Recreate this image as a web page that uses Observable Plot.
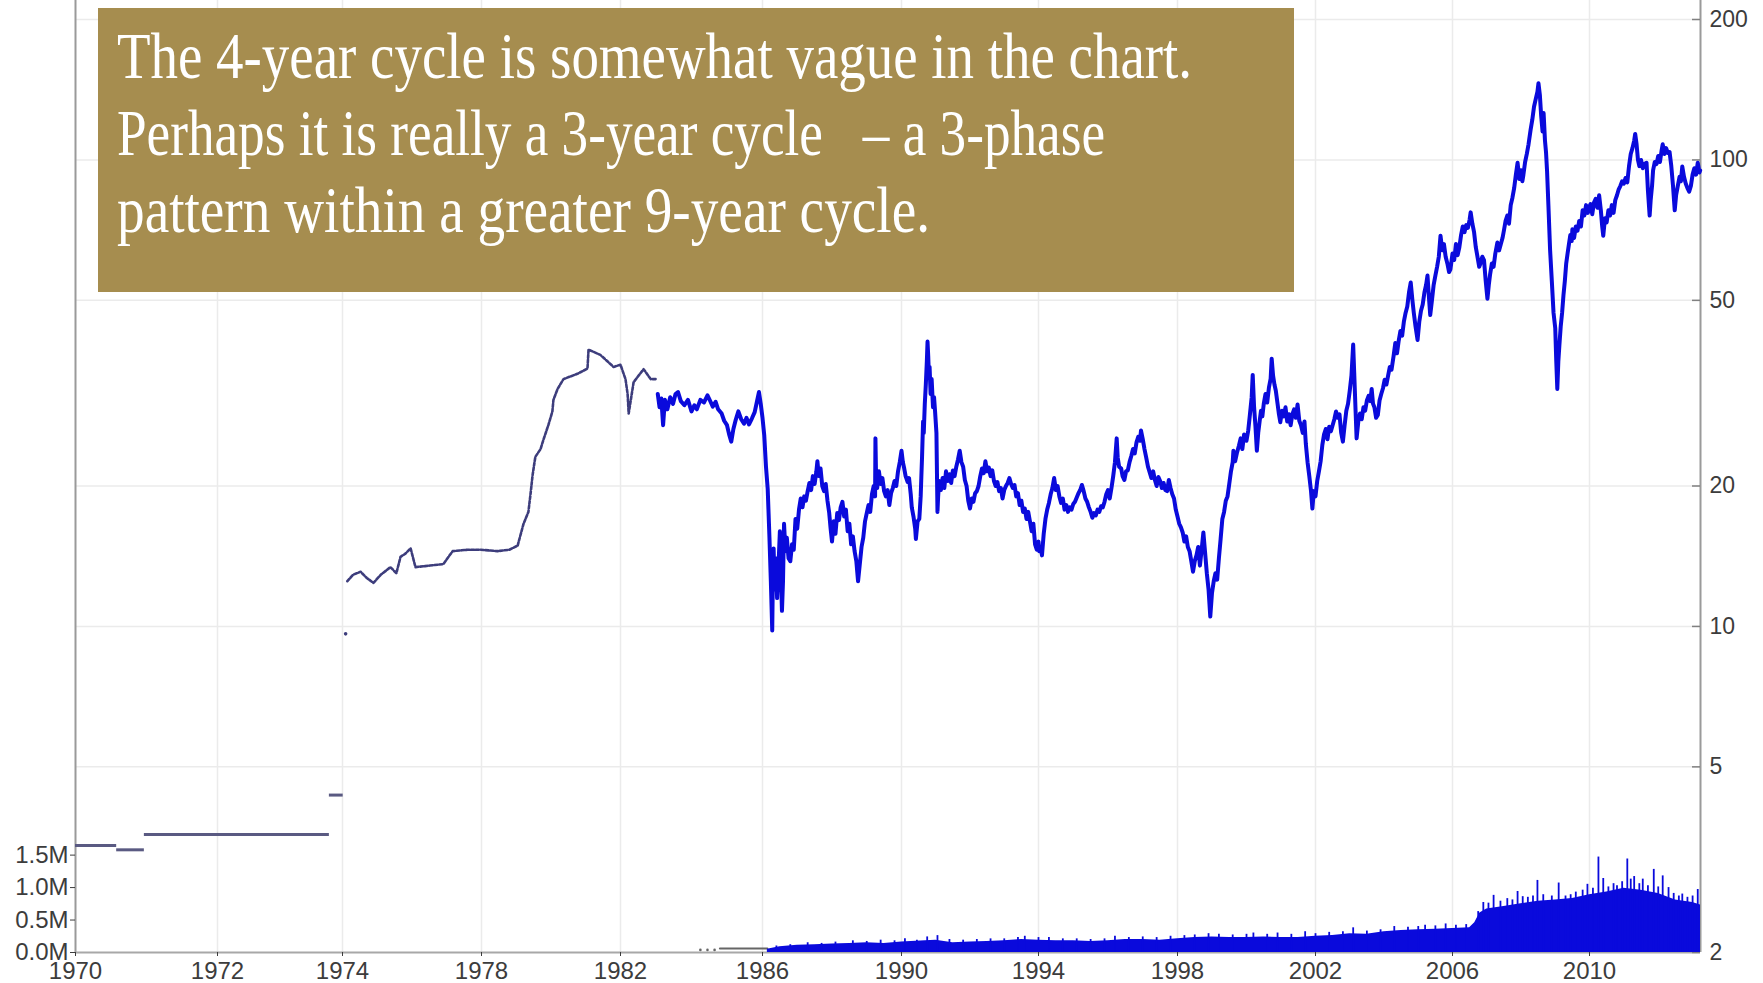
<!DOCTYPE html>
<html>
<head>
<meta charset="utf-8">
<script src="https://cdn.jsdelivr.net/npm/d3@7"></script>
<script src="https://cdn.jsdelivr.net/npm/@observablehq/plot@0.6"></script>
<style>
html, body { margin: 0; padding: 0; background: #ffffff; }
#wrap { position: relative; width: 1763px; height: 983px; overflow: hidden; background: #ffffff; }
#wrap > svg, #wrap > figure { position: absolute; left: 0; top: 0; margin: 0; }
#note { position: absolute; left: 98px; top: 8px; width: 1196px; height: 284px; background: #a68d4f; }
#note .line { position: absolute; left: 19px; white-space: pre; color: #ffffff; transform-origin: 0 0;
  font-family: 'Liberation Serif', 'DejaVu Serif', serif; font-size: 65px; line-height: 65px; }
</style>
</head>
<body>
<div id="wrap"></div>
<script>
// ---------- data ----------
const tickYears = [1970, 1972, 1974, 1978, 1982, 1986, 1990, 1994, 1998, 2002, 2006, 2010];
const xBreaks = [1970, 1972, 1974, 1978, 1982, 1986, 1990, 1994, 1998, 2002, 2006, 2010, 2013.23];
const priceTicks = [200, 100, 50, 20, 10, 5, 2];
const volumeTicks = [0, 0.5, 1.0, 1.5];

// 1970-1974: flat monthly posted prices [start year, end year, price]
const earlySteps = [
  [1970.0, 1970.58, 3.39], [1970.58, 1970.97, 3.32], [1970.97, 1973.79, 3.58], [1973.79, 1974.02, 4.35]
];
// isolated early monthly point
const earlyIsolated = [[1974.09, 9.64]];
// 1974-1983 monthly prices [year, price]
const earlyPrice = [
  [1974.14,12.5],[1974.3,12.9],[1974.52,13.1],[1974.7,12.7],[1974.89,12.4],[1975.1,12.9],[1975.38,13.4],
  [1975.55,13.0],[1975.67,14.1],[1975.8,14.3],[1975.96,14.7],[1976.1,13.4],[1976.5,13.5],[1976.9,13.6],
  [1977.17,14.5],[1977.6,14.6],[1977.97,14.6],[1978.46,14.5],[1978.8,14.6],[1979.04,14.9],[1979.21,16.6],
  [1979.35,17.6],[1979.41,19.2],[1979.47,21.1],[1979.55,23.1],[1979.70,24.0],[1979.78,25.1],[1979.93,27.1],
  [1980.04,28.9],[1980.07,30.6],[1980.19,32.3],[1980.36,33.9],[1980.76,34.8],[1981.05,35.7],[1981.08,39.2],
  [1981.42,38.2],[1981.80,36.0],[1982.0,36.4],[1982.14,33.9],[1982.20,31.5],[1982.23,28.6],[1982.37,33.4],
  [1982.65,35.6],[1982.85,33.9],[1982.99,33.9]
];
// 1983-2013 daily futures prices (read along the band) [year, price]
const dailyPrice = [
  [1983.05,31.5],[1983.1,29.5],[1983.15,30.8],[1983.2,27.0],[1983.25,30.6],[1983.32,29.2],[1983.4,31.0],
  [1983.48,30.0],[1983.55,31.5],[1983.62,31.8],[1983.7,30.4],[1983.8,29.8],[1983.9,30.6],[1984.0,28.9],
  [1984.08,29.8],[1984.15,29.2],[1984.25,30.6],[1984.35,30.2],[1984.45,31.3],[1984.52,30.5],[1984.6,29.6],
  [1984.68,30.3],[1984.75,29.2],[1984.85,28.6],[1984.92,27.6],[1985.0,27.0],[1985.06,25.8],[1985.12,24.9],
  [1985.18,26.5],[1985.25,27.8],[1985.32,28.9],[1985.4,27.8],[1985.48,27.2],[1985.55,28.0],[1985.62,27.1],
  [1985.7,27.9],[1985.78,28.8],[1985.85,30.5],[1985.9,31.8],[1985.95,30.0],[1986.0,28.0],[1986.05,25.7],
  [1986.1,22.0],[1986.15,19.7],[1986.2,15.5],[1986.24,12.5],[1986.28,9.8],[1986.3,13.0],[1986.32,14.7],
  [1986.35,12.0],[1986.38,14.0],[1986.42,11.5],[1986.46,13.5],[1986.5,16.0],[1986.53,13.0],[1986.56,10.8],
  [1986.59,12.5],[1986.62,16.6],[1986.66,14.5],[1986.7,15.5],[1986.75,14.0],[1986.8,13.8],[1986.85,15.0],
  [1986.9,14.6],[1986.95,17.0],[1987.0,16.2],[1987.05,17.8],[1987.1,18.8],[1987.15,18.0],[1987.2,19.0],
  [1987.25,18.6],[1987.3,19.5],[1987.35,20.3],[1987.4,19.6],[1987.45,21.0],[1987.5,20.2],[1987.55,21.5],
  [1987.58,22.6],[1987.62,21.0],[1987.67,21.8],[1987.72,20.0],[1987.77,19.5],[1987.82,20.2],[1987.87,18.6],
  [1987.92,17.5],[1987.96,16.2],[1988.0,15.2],[1988.05,16.8],[1988.1,15.8],[1988.15,17.5],[1988.2,16.9],
  [1988.25,18.0],[1988.3,18.5],[1988.35,17.2],[1988.4,17.8],[1988.45,16.0],[1988.5,16.6],[1988.55,15.0],
  [1988.6,15.6],[1988.65,14.5],[1988.7,13.8],[1988.75,12.5],[1988.8,13.6],[1988.85,14.8],[1988.9,15.5],
  [1988.95,16.8],[1989.0,17.5],[1989.05,18.2],[1989.1,17.6],[1989.15,19.2],[1989.2,20.0],[1989.24,19.0],
  [1989.25,25.3],[1989.27,20.5],[1989.3,19.8],[1989.35,21.5],[1989.4,20.2],[1989.45,20.8],[1989.5,19.5],
  [1989.55,19.0],[1989.6,19.6],[1989.65,18.2],[1989.7,19.3],[1989.75,19.8],[1989.8,20.5],[1989.85,20.0],
  [1989.9,21.5],[1989.95,22.5],[1990.0,23.8],[1990.04,22.5],[1990.08,21.8],[1990.12,21.0],[1990.18,20.4],
  [1990.22,20.8],[1990.27,19.2],[1990.3,18.0],[1990.35,17.2],[1990.4,16.2],[1990.42,15.4],[1990.47,16.8],
  [1990.52,17.0],[1990.56,19.0],[1990.58,21.0],[1990.6,23.1],[1990.63,27.5],[1990.65,26.0],[1990.68,30.0],
  [1990.71,33.0],[1990.74,37.0],[1990.76,40.8],[1990.78,38.0],[1990.8,34.5],[1990.82,36.0],[1990.85,31.5],
  [1990.88,33.9],[1990.92,29.5],[1990.95,31.0],[1990.98,28.9],[1991.02,26.0],[1991.05,17.6],[1991.07,19.0],
  [1991.1,20.5],[1991.15,19.6],[1991.2,20.8],[1991.25,19.8],[1991.3,21.5],[1991.35,20.5],[1991.4,21.2],
  [1991.45,20.3],[1991.5,21.6],[1991.55,21.0],[1991.6,22.0],[1991.65,22.8],[1991.7,23.8],[1991.75,22.5],
  [1991.8,22.0],[1991.85,20.6],[1991.9,20.0],[1991.95,18.6],[1992.0,17.9],[1992.05,18.8],[1992.1,18.5],
  [1992.15,19.3],[1992.2,19.5],[1992.25,20.0],[1992.3,21.0],[1992.35,21.8],[1992.4,21.3],[1992.45,22.6],
  [1992.5,21.5],[1992.55,21.9],[1992.6,21.0],[1992.65,21.6],[1992.7,20.5],[1992.75,20.0],[1992.8,20.4],
  [1992.85,19.5],[1992.9,19.8],[1992.95,18.8],[1993.0,19.6],[1993.05,20.0],[1993.1,20.3],[1993.15,20.8],
  [1993.2,20.2],[1993.25,19.8],[1993.3,20.1],[1993.35,19.0],[1993.4,19.3],[1993.45,18.2],[1993.5,18.6],
  [1993.55,17.6],[1993.6,17.9],[1993.65,17.0],[1993.7,17.6],[1993.75,16.8],[1993.8,16.0],[1993.85,16.6],
  [1993.9,15.0],[1993.95,14.6],[1994.0,15.2],[1994.02,14.5],[1994.06,14.8],[1994.1,14.2],[1994.15,15.8],
  [1994.2,17.0],[1994.25,17.8],[1994.3,18.4],[1994.35,19.2],[1994.4,19.8],[1994.45,20.8],[1994.5,19.6],
  [1994.55,20.0],[1994.6,19.0],[1994.65,18.4],[1994.7,18.8],[1994.75,17.8],[1994.8,18.2],[1994.85,17.6],
  [1994.9,18.0],[1994.95,17.8],[1995.0,18.3],[1995.05,18.5],[1995.1,18.9],[1995.15,19.3],[1995.2,19.6],
  [1995.25,20.1],[1995.3,19.5],[1995.35,18.8],[1995.4,18.5],[1995.45,18.0],[1995.5,17.6],[1995.55,17.1],
  [1995.6,17.5],[1995.65,17.3],[1995.7,17.8],[1995.75,17.6],[1995.8,18.1],[1995.85,18.0],[1995.9,18.5],
  [1995.95,19.2],[1996.0,19.6],[1996.05,18.8],[1996.1,19.8],[1996.15,21.0],[1996.2,22.5],[1996.25,25.3],
  [1996.28,23.0],[1996.32,22.0],[1996.38,21.8],[1996.42,21.0],[1996.47,20.6],[1996.52,21.5],[1996.57,21.6],
  [1996.62,22.5],[1996.67,23.2],[1996.72,24.0],[1996.77,23.5],[1996.82,24.8],[1996.87,25.5],[1996.92,25.0],
  [1996.95,26.3],[1997.0,25.2],[1997.05,24.0],[1997.1,23.0],[1997.15,22.0],[1997.2,21.4],[1997.25,20.8],
  [1997.3,21.5],[1997.35,20.6],[1997.4,20.0],[1997.45,20.9],[1997.5,20.5],[1997.55,19.8],[1997.6,20.3],
  [1997.65,19.6],[1997.7,19.5],[1997.75,20.6],[1997.8,19.8],[1997.85,19.2],[1997.9,18.8],[1997.95,17.8],
  [1998.0,17.2],[1998.05,16.6],[1998.1,16.3],[1998.15,15.9],[1998.2,15.2],[1998.25,15.6],[1998.3,14.8],
  [1998.35,14.5],[1998.4,13.8],[1998.45,13.1],[1998.5,13.8],[1998.55,14.2],[1998.6,14.8],[1998.65,13.5],
  [1998.7,14.6],[1998.75,15.9],[1998.8,14.4],[1998.85,13.0],[1998.9,12.0],[1998.95,10.5],[1999.0,11.8],
  [1999.05,12.5],[1999.1,13.0],[1999.15,12.6],[1999.2,14.0],[1999.25,15.4],[1999.3,17.0],[1999.35,17.6],
  [1999.4,18.6],[1999.45,19.0],[1999.5,20.2],[1999.55,21.5],[1999.6,22.5],[1999.62,23.8],[1999.67,22.6],
  [1999.72,23.5],[1999.78,24.4],[1999.83,25.3],[1999.88,24.0],[1999.93,25.8],[2000.0,25.0],[2000.05,26.3],
  [2000.1,28.5],[2000.15,31.0],[2000.18,34.6],[2000.22,29.5],[2000.26,26.8],[2000.3,23.8],[2000.34,26.0],
  [2000.38,27.5],[2000.42,29.0],[2000.46,28.2],[2000.5,30.0],[2000.55,31.5],[2000.6,30.2],[2000.65,32.5],
  [2000.7,34.0],[2000.73,37.5],[2000.77,34.5],[2000.81,33.0],[2000.85,32.0],[2000.9,30.0],[2000.94,28.5],
  [2000.98,27.4],[2001.03,29.0],[2001.08,28.2],[2001.13,29.5],[2001.18,27.5],[2001.23,28.5],[2001.28,27.0],
  [2001.33,28.5],[2001.38,29.2],[2001.43,28.0],[2001.48,29.9],[2001.53,27.6],[2001.58,27.0],[2001.63,26.0],
  [2001.68,27.5],[2001.72,24.6],[2001.77,22.5],[2001.82,21.0],[2001.87,19.5],[2001.91,17.9],[2001.95,19.5],
  [2002.0,19.0],[2002.05,20.5],[2002.1,21.5],[2002.15,22.6],[2002.2,24.5],[2002.25,25.8],[2002.3,26.5],
  [2002.35,25.2],[2002.4,26.8],[2002.45,26.2],[2002.5,27.0],[2002.55,27.8],[2002.6,28.9],[2002.65,28.0],
  [2002.7,28.5],[2002.75,26.0],[2002.8,24.9],[2002.85,27.0],[2002.9,29.0],[2002.95,30.0],[2003.0,32.0],
  [2003.05,34.5],[2003.1,40.2],[2003.13,35.0],[2003.17,29.0],[2003.2,25.3],[2003.25,27.5],[2003.3,28.6],
  [2003.35,27.8],[2003.4,29.5],[2003.45,29.0],[2003.5,30.5],[2003.55,31.2],[2003.6,30.4],[2003.64,32.3],
  [2003.68,30.0],[2003.72,29.5],[2003.77,28.0],[2003.82,28.4],[2003.87,30.5],[2003.92,31.5],[2003.97,32.4],
  [2004.02,33.8],[2004.07,33.0],[2004.12,34.5],[2004.17,36.0],[2004.22,35.5],[2004.28,38.0],[2004.33,40.5],
  [2004.38,38.5],[2004.43,41.0],[2004.48,43.0],[2004.53,42.0],[2004.58,45.0],[2004.63,47.0],[2004.68,48.5],
  [2004.73,52.0],[2004.78,54.6],[2004.83,50.0],[2004.87,47.0],[2004.92,44.0],[2004.98,41.1],[2005.03,45.0],
  [2005.08,47.5],[2005.13,49.0],[2005.18,52.0],[2005.23,54.0],[2005.27,56.5],[2005.31,51.0],[2005.35,46.5],
  [2005.4,50.0],[2005.45,54.0],[2005.5,56.5],[2005.55,59.0],[2005.6,62.0],[2005.65,68.8],[2005.7,64.0],
  [2005.75,66.0],[2005.8,62.0],[2005.85,60.0],[2005.9,57.5],[2005.94,58.3],[2006.0,63.0],[2006.05,61.0],
  [2006.1,66.0],[2006.15,62.5],[2006.2,65.0],[2006.25,69.0],[2006.3,72.0],[2006.35,70.0],[2006.4,72.5],
  [2006.45,71.5],[2006.5,74.5],[2006.53,77.2],[2006.58,73.0],[2006.63,70.0],[2006.68,65.0],[2006.73,62.0],
  [2006.78,59.0],[2006.82,60.1],[2006.87,62.0],[2006.92,61.0],[2006.97,55.0],[2007.02,50.4],[2007.06,54.0],
  [2007.1,57.0],[2007.15,60.0],[2007.2,59.0],[2007.25,63.0],[2007.31,66.5],[2007.36,64.0],[2007.41,66.0],
  [2007.46,68.0],[2007.5,70.5],[2007.55,74.0],[2007.6,76.0],[2007.65,73.0],[2007.7,80.0],[2007.75,83.0],
  [2007.8,87.0],[2007.85,93.0],[2007.9,98.6],[2007.95,91.0],[2008.0,95.0],[2008.04,90.0],[2008.07,92.9],
  [2008.12,99.0],[2008.17,103.0],[2008.22,108.0],[2008.28,116],[2008.33,122.0],[2008.38,130.0],
  [2008.43,135.0],[2008.48,140.0],[2008.51,146],[2008.55,138.0],[2008.59,124.0],[2008.63,115.0],
  [2008.66,126],[2008.7,110.0],[2008.73,104.0],[2008.76,95],[2008.8,80.0],[2008.85,64],[2008.9,55.0],
  [2008.95,47.0],[2009.0,43.6],[2009.03,37.0],[2009.06,32.3],[2009.09,37.0],[2009.12,40.0],[2009.16,44.0],
  [2009.2,47.0],[2009.24,51.3],[2009.28,55.0],[2009.32,60.0],[2009.36,63.0],[2009.4,66.0],[2009.44,69.0],
  [2009.48,67.0],[2009.5,71],[2009.55,68.0],[2009.6,72.0],[2009.65,70.5],[2009.7,74.0],[2009.75,72],
  [2009.8,78.0],[2009.85,76.0],[2009.9,80.0],[2009.95,77.0],[2010.0,79.5],[2010.03,80.4],[2010.08,76.5],
  [2010.13,81.0],[2010.18,82.5],[2010.23,79.0],[2010.28,84.0],[2010.33,78.0],[2010.37,72.0],[2010.4,68.8],
  [2010.45,75.0],[2010.5,73.5],[2010.55,78.0],[2010.6,76.0],[2010.65,80.0],[2010.7,77],[2010.75,82.0],
  [2010.8,84.0],[2010.85,86.5],[2010.9,88.0],[2010.95,90.0],[2011.0,89.0],[2011.05,91.5],[2011.1,89.5],
  [2011.15,97.0],[2011.2,103.0],[2011.25,106.0],[2011.3,110.0],[2011.33,113.7],[2011.37,108.0],
  [2011.41,100.0],[2011.45,97.0],[2011.5,100],[2011.55,96.0],[2011.6,98.0],[2011.66,98.6],[2011.7,86.0],
  [2011.75,76],[2011.78,82.0],[2011.82,88.0],[2011.85,95],[2011.9,99.0],[2011.95,98.0],[2012.0,102.0],
  [2012.05,99.0],[2012.1,105.0],[2012.13,108],[2012.18,103.0],[2012.23,106.0],[2012.28,103.5],[2012.33,104],
  [2012.38,97.0],[2012.43,88.0],[2012.48,78],[2012.52,84.0],[2012.57,88.0],[2012.62,92.0],[2012.66,90.0],
  [2012.7,96.8],[2012.75,92.0],[2012.8,89.0],[2012.85,87.0],[2012.9,85.5],[2012.95,88.0],[2013.0,93.0],
  [2013.05,96.0],[2013.1,93.0],[2013.15,98.6],[2013.2,94.0],[2013.22,95]
];
// volume, millions of contracts [year, volume]
const volumeEarlyDots = [[1984.25,0.04],[1984.45,0.04],[1984.65,0.04]];
const volumeEarlyLine = [[1984.8,0.06],[1986.14,0.06]];
const volume = [
  [1986.14,0.05],[1986.5,0.09],[1987.0,0.11],[1987.5,0.12],[1988.0,0.13],[1988.5,0.14],[1989.0,0.15],
  [1989.5,0.14],[1990.0,0.16],[1990.7,0.18],[1991.0,0.19],[1991.5,0.15],[1992.0,0.16],[1992.5,0.17],
  [1993.0,0.18],[1993.5,0.20],[1994.0,0.19],[1994.5,0.18],[1995.0,0.18],[1995.5,0.17],[1996.0,0.18],
  [1996.5,0.20],[1997.0,0.20],[1997.5,0.19],[1998.0,0.21],[1998.5,0.23],[1999.0,0.24],[1999.5,0.23],
  [2000.0,0.23],[2000.5,0.24],[2001.0,0.23],[2001.5,0.23],[2002.0,0.25],[2002.5,0.26],[2003.0,0.29],
  [2003.5,0.28],[2004.0,0.32],[2004.5,0.34],[2005.0,0.35],[2005.5,0.36],[2006.0,0.37],[2006.5,0.38],
  [2006.65,0.46],[2006.8,0.61],[2007.0,0.67],[2007.5,0.71],[2008.0,0.75],[2008.5,0.79],[2009.0,0.81],
  [2009.5,0.83],[2010.0,0.89],[2010.5,0.93],[2011.0,0.99],[2011.5,0.96],[2012.0,0.91],[2012.5,0.81],
  [2013.0,0.77],[2013.23,0.73]
];
const volumeSpikes = [
  [1986.4,0.10],[1986.8,0.12],[1987.3,0.15],[1987.7,0.14],[1988.1,0.16],[1988.6,0.18],[1989.0,0.17],
  [1989.4,0.19],[1989.8,0.18],[1990.1,0.21],[1990.45,0.19],[1990.75,0.24],[1991.05,0.26],[1991.4,0.20],
  [1991.8,0.19],[1992.2,0.20],[1992.6,0.21],[1993.0,0.21],[1993.4,0.23],[1993.6,0.25],[1994.0,0.23],
  [1994.3,0.23],[1994.7,0.21],[1995.1,0.21],[1995.5,0.20],[1995.9,0.21],[1996.2,0.25],[1996.6,0.23],
  [1997.0,0.24],[1997.4,0.23],[1997.8,0.25],[1998.2,0.26],[1998.5,0.27],[1998.9,0.29],[1999.2,0.28],
  [1999.6,0.27],[2000.0,0.28],[2000.2,0.30],[2000.6,0.28],[2000.9,0.30],[2001.3,0.28],[2001.7,0.32],
  [2002.0,0.29],[2002.4,0.31],[2002.8,0.32],[2003.1,0.38],[2003.5,0.33],[2003.9,0.35],[2004.3,0.40],
  [2004.7,0.39],[2005.0,0.40],[2005.2,0.42],[2005.5,0.41],[2005.8,0.44],[2006.1,0.42],[2006.4,0.43],
  [2006.75,0.63],[2006.9,0.77],[2007.05,0.76],[2007.2,0.88],[2007.4,0.79],[2007.6,0.83],[2007.75,0.81],
  [2007.9,0.94],[2008.05,0.86],[2008.2,0.85],[2008.35,0.87],[2008.48,1.11],[2008.65,0.89],[2008.9,0.87],
  [2009.1,1.07],[2009.3,0.87],[2009.45,0.89],[2009.6,0.93],[2009.8,0.96],[2009.94,1.05],[2010.1,0.99],
  [2010.26,1.47],[2010.4,1.14],[2010.55,1.01],[2010.7,1.06],[2010.8,1.03],[2010.95,1.09],[2011.1,1.44],
  [2011.2,1.13],[2011.3,1.17],[2011.45,1.06],[2011.55,1.13],[2011.7,1.03],[2011.87,1.28],[2012.0,1.01],
  [2012.13,1.18],[2012.3,1.00],[2012.45,0.91],[2012.6,0.87],[2012.7,0.90],[2012.85,0.85],[2013.0,0.87],
  [2013.15,0.97]
];
const noteLines = [
  "The 4-year cycle is somewhat vague in the chart.",
  "Perhaps it is really a 3-year cycle \u2002\u2013 a 3-phase",
  "pattern within a greater 9-year cycle."
];

// ---------- layout / style ----------
const W = 1763, H = 983;
const xRange = [75, 217, 342, 481, 620, 762, 901, 1038, 1177, 1315, 1452, 1589, 1700];
const yRange = [952, 19];
const blue = "#0a0adc";
const font = "'Liberation Sans', Arial, sans-serif";
const margins = {marginLeft: 75, marginRight: 63, marginTop: 0, marginBottom: 31};
// the reference's time axis is not uniform: years are warped piecewise before the linear scale
const warp = d3.scaleLinear().domain(xBreaks).range(xRange);
const xScale = {transform: warp, domain: [xRange[0], xRange[xRange.length - 1]],
                range: [xRange[0], xRange[xRange.length - 1]], axis: null};
const hasAxisMarks = typeof Plot.axisX === "function";

const yearAxis = hasAxisMarks
  ? [Plot.axisX(tickYears, {tickFormat: d => String(d), tickSize: 4, tickPadding: 5, label: null, fontSize: 24})]
  : [Plot.tickX(tickYears, {x: d => d, y1: 2, y2: 2, stroke: "#555"}),
     Plot.text(tickYears, {x: d => d, y: 2, text: d => String(d), dy: 19, fontSize: 24})];

const pricePlot = Plot.plot({
  width: W, height: H, ...margins,
  style: {fontFamily: font, fontSize: "23px", color: "#3c3c3c", background: "transparent", overflow: "visible"},
  x: xScale,
  y: {type: "log", domain: [2, 200], range: yRange, axis: "right", ticks: priceTicks,
      tickFormat: d => String(d), tickSize: 0, tickPadding: 9, label: null},
  marks: [
    Plot.ruleX(tickYears.slice(1), {stroke: "#ebebeb", strokeWidth: 1.5}),
    Plot.ruleY(priceTicks.slice(0, -1), {stroke: "#ebebeb", strokeWidth: 1.5}),
    Plot.ruleX([xBreaks[0], xBreaks[xBreaks.length - 1]], {stroke: "#9a9a9a", strokeWidth: 2}),
    Plot.ruleY([2], {stroke: "#a8a8a8", strokeWidth: 2}),
    Plot.tickY(priceTicks, {stroke: "#808080", strokeWidth: 1.5, insetLeft: 1617}),
    ...yearAxis,
    Plot.ruleY(earlySteps, {x1: d => d[0], x2: d => d[1], y: d => d[2], stroke: "#5a5a82", strokeWidth: 3}),
    Plot.dot(earlyIsolated, {x: d => d[0], y: d => d[1], r: 1.8, fill: "#3d3d7c", stroke: null}),
    Plot.line(earlyPrice, {x: d => d[0], y: d => d[1], stroke: "#3d3d7c", strokeWidth: 2.6, strokeDasharray: "3,1.8"}),
    Plot.line(dailyPrice, {x: d => d[0], y: d => d[1], stroke: blue, strokeWidth: 4, strokeLinejoin: "round"})
  ]
});

const volumePlot = Plot.plot({
  width: W, height: H, ...margins,
  style: {fontFamily: font, fontSize: "24px", color: "#3c3c3c", background: "transparent", overflow: "visible"},
  x: xScale,
  y: {domain: [0, 14.37], range: yRange, ticks: volumeTicks, tickFormat: d => d.toFixed(1) + "M",
      tickSize: 5, tickPadding: 2, label: null},
  marks: [
    Plot.dot(volumeEarlyDots, {x: d => d[0], y: d => d[1], r: 1.3, fill: "#666", stroke: null}),
    Plot.line(volumeEarlyLine, {x: d => d[0], y: d => d[1], stroke: "#666", strokeWidth: 2}),
    Plot.areaY(volume, {x: d => d[0], y: d => d[1], fill: blue}),
    Plot.ruleX(volumeSpikes, {x: d => d[0], y1: 0, y2: d => d[1], stroke: blue, strokeWidth: 1.8})
  ]
});

const wrap = document.getElementById("wrap");
wrap.appendChild(pricePlot);
wrap.appendChild(volumePlot);

// annotation box (HTML text over the chart), condensed horizontally like the reference face
const note = document.createElement("div");
note.id = "note";
wrap.appendChild(note);
const lineTops = [16, 93, 170];
const lineWidths = [1075, 988, 813];
noteLines.forEach((s, i) => {
  const d = document.createElement("div");
  d.className = "line";
  d.style.top = lineTops[i] + "px";
  d.textContent = s;
  note.appendChild(d);
  const natural = d.getBoundingClientRect().width;
  if (natural > 0) d.style.transform = `scaleX(${(lineWidths[i] / natural).toFixed(4)})`;
});
</script>
</body>
</html>
